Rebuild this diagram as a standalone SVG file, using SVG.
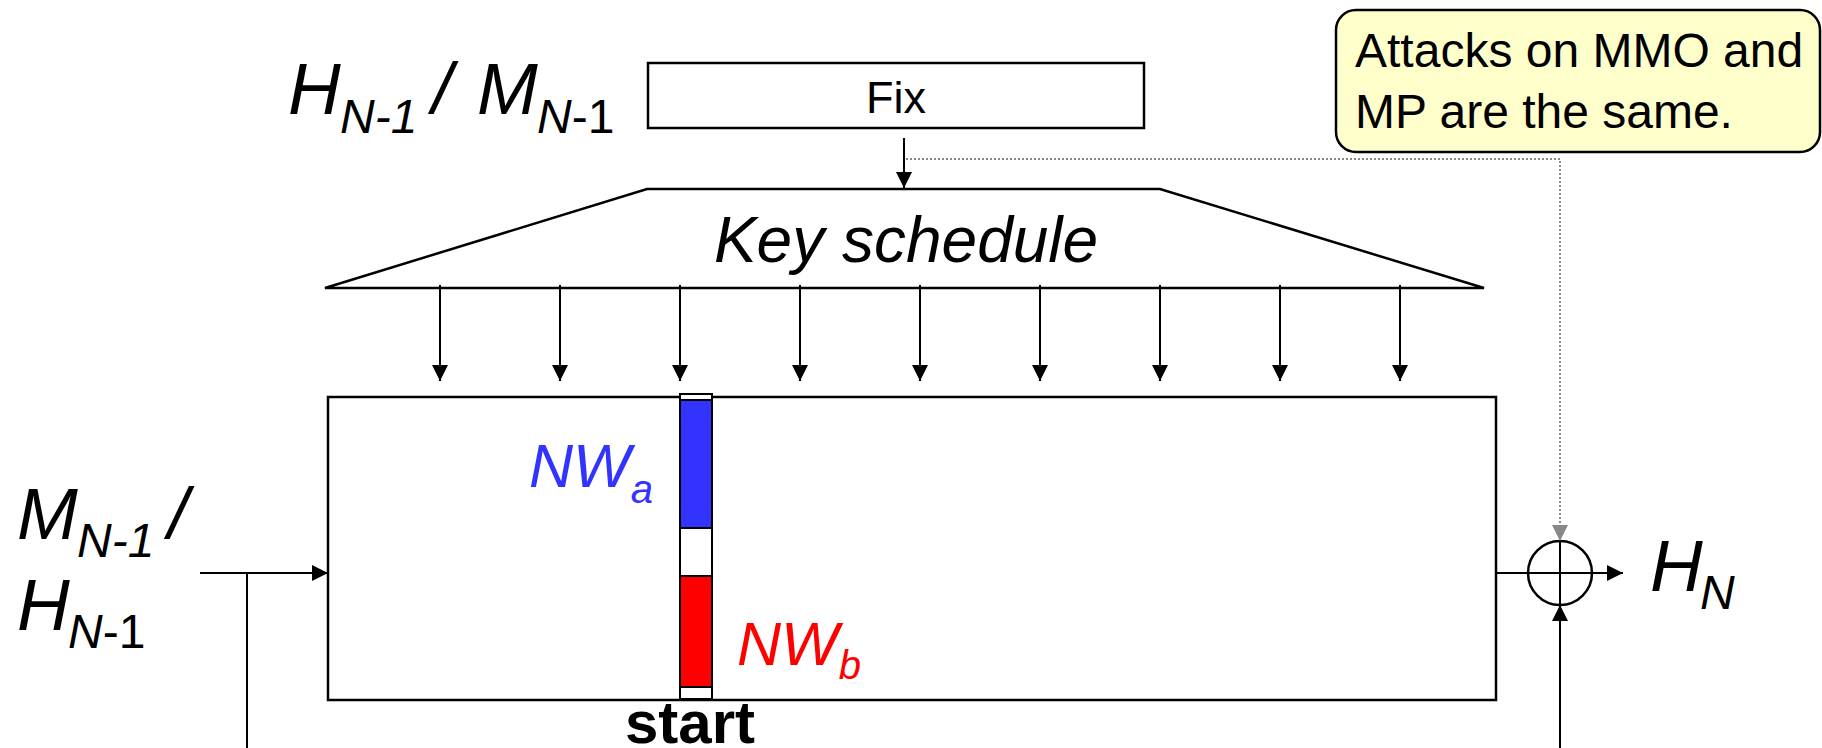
<svg xmlns="http://www.w3.org/2000/svg" width="1822" height="748" viewBox="0 0 1822 748">
<style>
text{font-family:"Liberation Sans",Arial,sans-serif;fill:#000}
.it{font-style:italic}
.up{font-style:normal}
.box{fill:#fff;stroke:#000;stroke-width:2.5}
.ln{fill:none;stroke:#000;stroke-width:2}
.dot{fill:none;stroke:#888;stroke-width:2;stroke-dasharray:2 2}
.seg{stroke:#000;stroke-width:2}
</style>
<defs>
<marker id="ah" viewBox="0 0 16 16" markerWidth="16" markerHeight="16" refX="16" refY="8" orient="auto" markerUnits="userSpaceOnUse"><path d="M0,0 L16,8 L0,16 z" fill="#000"/></marker>
<marker id="ahg" viewBox="0 0 16 16" markerWidth="16" markerHeight="16" refX="16" refY="8" orient="auto" markerUnits="userSpaceOnUse"><path d="M0,0 L16,8 L0,16 z" fill="#888"/></marker>
</defs>
<rect width="1822" height="748" fill="#fff"/>

<g id="label-top">
<text x="288" y="114" class="it" font-size="73">H</text>
<text x="340" y="133" class="it" font-size="48">N-1</text>
<text x="432" y="114" class="it" font-size="73">/</text>
<text x="477" y="114" class="it" font-size="73">M</text>
<text x="537" y="133" font-size="48"><tspan class="it">N</tspan><tspan class="up">-1</tspan></text>
</g>

<g id="fix">
<rect class="box" x="648" y="63" width="496" height="65"/>
<text x="896" y="113" font-size="45" text-anchor="middle">Fix</text>
</g>

<g id="callout">
<rect x="1336" y="10" width="484" height="142" rx="20" ry="20" fill="#FFFFCC" stroke="#000" stroke-width="2.5"/>
<text x="1355" y="67" font-size="48">Attacks on MMO and</text>
<text x="1355" y="128" font-size="48">MP are the same.</text>
</g>

<g id="key-schedule">
<polygon class="box" points="647,189 1160,189 1484,288 325,288"/>
<text x="906" y="262" class="it" font-size="64" text-anchor="middle">Key schedule</text>
</g>

<g id="cipher">
<rect class="box" x="328" y="397" width="1168" height="303"/>
</g>

<g id="state-column">
<rect class="seg" x="680" y="394" width="32" height="6" fill="#fff"/>
<rect class="seg" x="680" y="400" width="32" height="128" fill="#3333FF"/>
<rect class="seg" x="680" y="528" width="32" height="48" fill="#fff"/>
<rect class="seg" x="680" y="576" width="32" height="111" fill="#FF0000"/>
<rect class="seg" x="680" y="687" width="32" height="12" fill="#fff"/>
<text x="529" y="487" class="it" font-size="61" style="fill:#3333FF">NW<tspan font-size="40" dy="16">a</tspan></text>
<text x="737" y="665" class="it" font-size="61" style="fill:#FF0000">NW<tspan font-size="40" dy="14">b</tspan></text>
<text x="690" y="743" font-size="60" font-weight="bold" text-anchor="middle">start</text>
</g>

<g id="label-left">
<text x="17" y="539" class="it" font-size="73">M</text>
<text x="77" y="557" class="it" font-size="48">N-1</text>
<text x="168" y="539" class="it" font-size="73">/</text>
<text x="17" y="630" class="it" font-size="73">H</text>
<text x="68" y="648" font-size="48"><tspan class="it">N</tspan><tspan class="up">-1</tspan></text>
</g>

<g id="xor">
<circle cx="1560" cy="573" r="32" fill="#fff" stroke="#000" stroke-width="2.5"/>
<line class="ln" x1="1528" y1="573" x2="1592" y2="573"/>
<line class="ln" x1="1560" y1="541" x2="1560" y2="605"/>
</g>

<g id="label-out">
<text x="1650" y="591" class="it" font-size="73">H</text>
<text x="1700" y="609" class="it" font-size="48">N</text>
</g>

<g id="connectors">
<line class="ln" x1="904" y1="138" x2="904" y2="188" marker-end="url(#ah)"/>
<polyline class="dot" points="906,159 1560,159 1560,541" marker-end="url(#ahg)"/>
<line class="ln" x1="440" y1="285" x2="440" y2="381" marker-end="url(#ah)"/>
<line class="ln" x1="560" y1="285" x2="560" y2="381" marker-end="url(#ah)"/>
<line class="ln" x1="680" y1="285" x2="680" y2="381" marker-end="url(#ah)"/>
<line class="ln" x1="800" y1="285" x2="800" y2="381" marker-end="url(#ah)"/>
<line class="ln" x1="920" y1="285" x2="920" y2="381" marker-end="url(#ah)"/>
<line class="ln" x1="1040" y1="285" x2="1040" y2="381" marker-end="url(#ah)"/>
<line class="ln" x1="1160" y1="285" x2="1160" y2="381" marker-end="url(#ah)"/>
<line class="ln" x1="1280" y1="285" x2="1280" y2="381" marker-end="url(#ah)"/>
<line class="ln" x1="1400" y1="285" x2="1400" y2="381" marker-end="url(#ah)"/>
<line class="ln" x1="200" y1="573" x2="328" y2="573" marker-end="url(#ah)"/>
<line class="ln" x1="247" y1="573" x2="247" y2="748"/>
<line class="ln" x1="1496" y1="573" x2="1528" y2="573"/>
<line class="ln" x1="1592" y1="573" x2="1623" y2="573" marker-end="url(#ah)"/>
<line class="ln" x1="1560" y1="748" x2="1560" y2="605" marker-end="url(#ah)"/>
</g>
</svg>
